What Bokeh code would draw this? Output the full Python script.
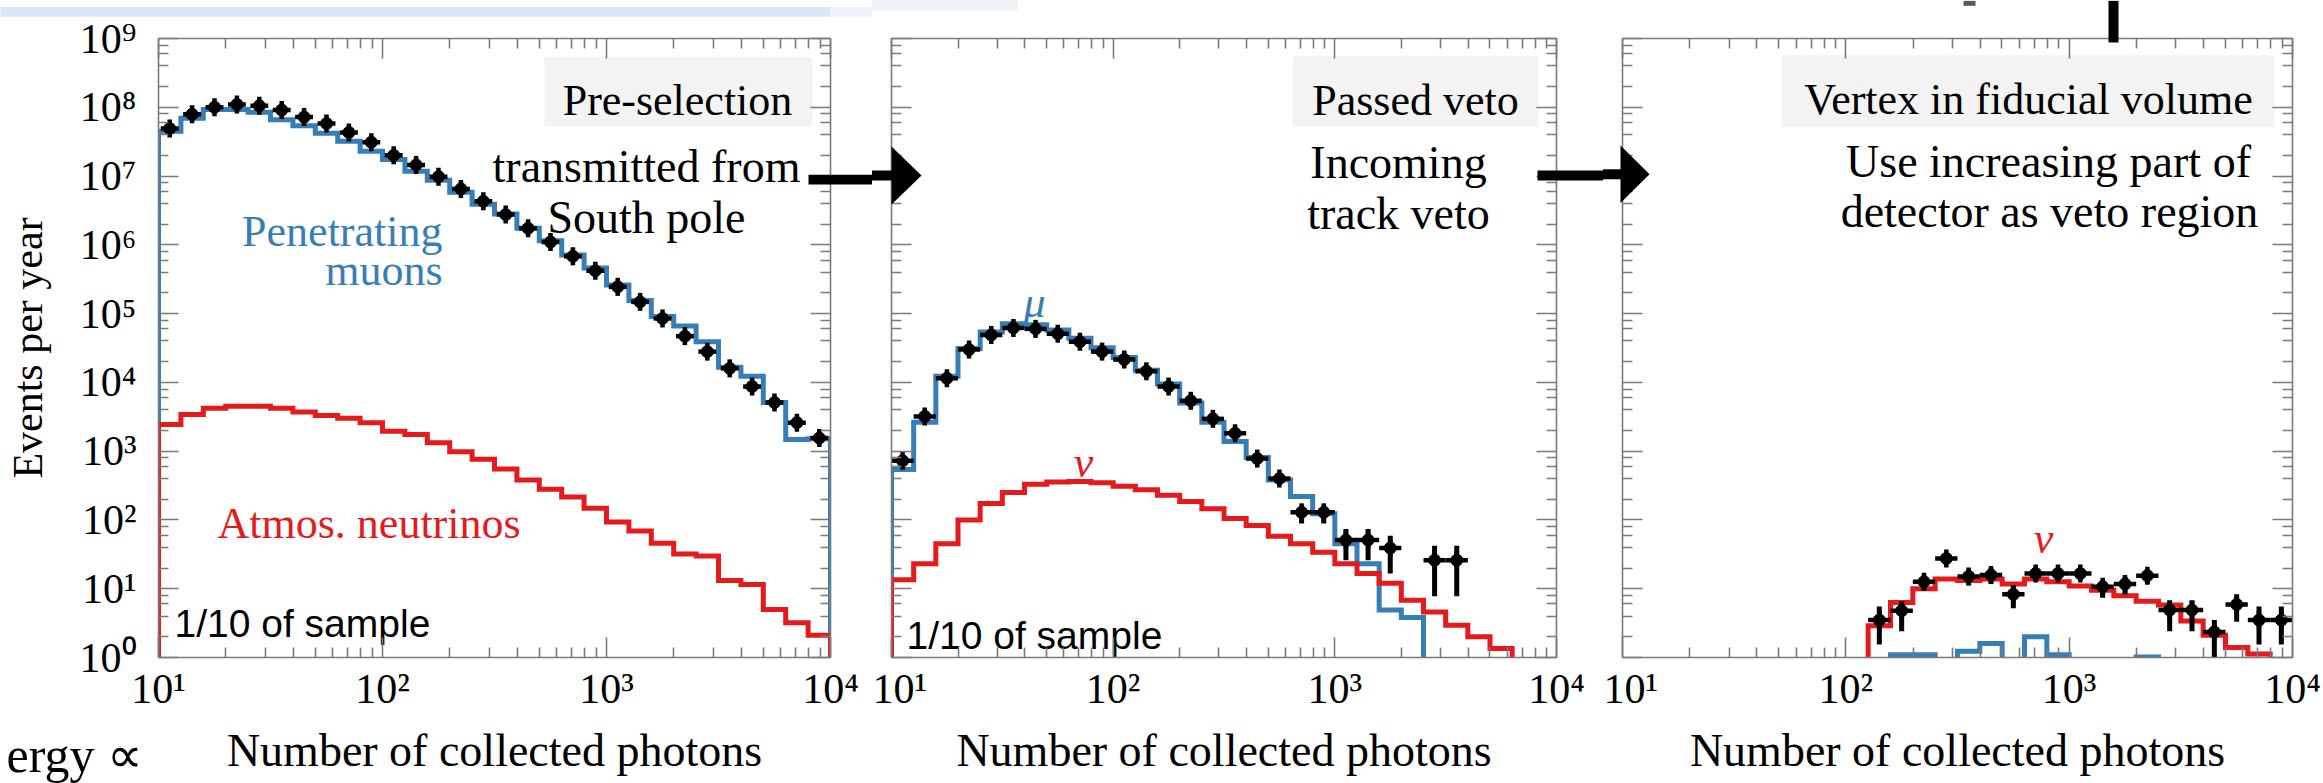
import math
from bokeh.plotting import figure
from bokeh.models import Range1d, LinearScale, LogAxis, FixedTicker, CustomJSTickFormatter
from bokeh.layouts import row
from bokeh.embed import file_html
from bokeh.resources import INLINE
from bokeh.core.properties import value

# ---------------- data ----------------
# histogram bins: 30 bins of 0.1 in log10(number of collected photons), 10^1 .. 10^4
log_bin_edges = [round(1.0 + 0.1 * i, 1) for i in range(31)]

x_ticks = [10, 100, 1000, 10000]
x_tick_labels = ["10¹", "10²", "10³", "10⁴"]
y_ticks = [1, 10, 100, 1e3, 1e4, 1e5, 1e6, 1e7, 1e8, 1e9]
y_tick_labels = ["10⁰", "10¹", "10²", "10³", "10⁴", "10⁵", "10⁶", "10⁷", "10⁸", "10⁹"]

# Panel 1: pre-selection (events per year, 1/10 of sample)
p1_data = [4.9e7, 7.9e7, 1.0e8, 1.1e8, 1.05e8, 9.1e7, 7.2e7, 5.8e7, 4.3e7, 3.1e7,
           2.0e7, 1.45e7, 9.8e6, 6.5e6, 4.3e6, 2.75e6, 1.74e6, 1.1e6, 6.8e5, 4.2e5,
           2.45e5, 1.48e5, 8.5e4, 4.7e4, 2.8e4, 1.6e4, 8.7e3, 5.1e3, 2.6e3, 1.55e3]
p1_muons = [4.5e7, 6.9e7, 9.3e7, 9.3e7, 8.5e7, 6.6e7, 5.4e7, 4.2e7, 3.2e7, 2.3e7,
            1.74e7, 1.17e7, 8.7e6, 5.8e6, 3.9e6, 2.8e6, 1.74e6, 1.15e6, 7.1e5, 4.6e5,
            2.6e5, 1.55e5, 9.1e4, 6.6e4, 3.9e4, 1.66e4, 1.23e4, 5.1e3, 1.48e3, 1.51e3]
p1_neutrinos = [2450, 3400, 4200, 4500, 4500, 4200, 3700, 3300, 3000, 2600,
                1950, 1740, 1320, 980, 760, 550, 380, 280, 215, 148,
                93, 69, 46, 32, 30, 13.2, 11.5, 5.0, 3.2, 2.1]

# Panel 2: passed veto
p2_data = [725, 3200, 1.15e4, 3.0e4, 4.9e4, 6.2e4, 6.0e4, 5.1e4, 3.9e4, 2.8e4,
           2.15e4, 1.45e4, 8700, 5400, 2950, 1820, 780, 400, 129, 129,
           51, 51, 39, None, 26, 26, None, None, None, None]
p2_err_lo = [None] * 18 + [89, 89, 26, 26, 16.6, None, 7.8, 7.8, None, None, None, None]
p2_err_hi = [None] * 18 + [162, 162, 74, 74, 59, None, 42, 42, None, None, None, None]
p2_muons = [540, 2630, 1.23e4, 3.1e4, 5.4e4, 7.1e4, 6.9e4, 5.8e4, 4.4e4, 3.2e4,
            2.3e4, 1.5e4, 9500, 5000, 2630, 1380, 810, 380, 220, 123,
            45, 23, 4.9, 3.8, 0, 0, 0, 0, 0, 0]
p2_neutrinos = [13.5, 23, 45, 100, 174, 250, 330, 355, 363, 347,
                309, 275, 229, 186, 145, 105, 83, 58, 45, 34,
                23, 16.6, 12, 6.8, 4.6, 2.95, 2.0, 1.35, 0, 0]

# Panel 3: vertex in fiducial volume
p3_data = [None] * 11 + [3.5, 4.8, 12.6, 27.5, 15.1, 15.8, 8.3, 16.6, 16.6, 16.6,
                         10.7, 11.7, 15.5, 4.9, 4.9, 2.35, 5.9, 3.5, 3.5]
p3_err_lo = [None] * 11 + [1.55, 2.4, 9.5, 23, 11.2, 11.7, 5.2, 13.5, 13.5, 13.5,
                           7.4, 8.3, 11.7, 2.4, 2.4, 1.0, 3.3, 1.55, 1.55]
p3_err_hi = [None] * 11 + [5.5, 6.5, 15.5, 32, 19, 20, 11.2, 20, 20, 20,
                           13.2, 14.8, 19, 6.8, 6.8, 3.5, 8.3, 5.5, 5.5]
p3_muons = [0] * 12 + [1.1, 1.1, 0, 1.23, 1.6, 0, 2.0, 1.1, 0, 0, 0, 1.02, 0, 0, 0, 0, 0, 0]
p3_neutrinos = [0] * 11 + [2.9, 6.3, 10, 13.8, 13.2, 13.8, 11.7, 13.8, 12.6, 11,
                           9.5, 7.9, 6.6, 5.8, 3.4, 2.1, 1.4, 1.12, 0]

# ---------------- style ----------------
BLUE = "#377eb8"
RED = "#e41a1c"
GRAY = "#7a7a7a"
SERIF = "Liberation Serif"
SANS = "Liberation Sans"
FLOOR = 1e-3
H = 783
LW = 5

# canvas_left, width, frame_left, frame_right, frame_top, frame_bottom (page pixels)
PANELS = [
    (0, 872, 158, 830, 32, 659),
    (872, 731, 891, 1556, 38, 657),
    (1603, 720, 1622, 2292, 38, 663),
]


def style_axis(ax, ticks, minor, labels, label_size="42px"):
    ax.ticker = FixedTicker(ticks=ticks, minor_ticks=minor)
    ax.axis_line_color = GRAY
    ax.axis_line_width = 1.6
    ax.major_tick_line_color = GRAY
    ax.major_tick_line_width = 1.6
    ax.minor_tick_line_color = GRAY
    ax.minor_tick_line_width = 1.6
    ax.major_tick_in = 20
    ax.major_tick_out = 0
    ax.minor_tick_in = 10
    ax.minor_tick_out = 0
    if labels is None:
        ax.formatter = CustomJSTickFormatter(code="return ''")
        ax.major_label_text_font_size = "0px"
        ax.major_label_standoff = 0
    else:
        ax.formatter = labels
        ax.major_label_text_font = SERIF
        ax.major_label_text_font_size = label_size
        ax.major_label_text_color = "black"


def make_panel(spec, ylabels):
    cl, w, fl, fr, ft, fb = spec
    p = figure(width=w, height=H, x_axis_type="log", y_axis_type="log",
               x_range=Range1d(10, 1e4), y_range=Range1d(1, 1e9),
               output_backend="svg", toolbar_location=None,
               min_border_left=fl - cl, min_border_right=cl + w - fr,
               min_border_top=ft, min_border_bottom=H - fb)
    p.outline_line_color = None
    p.grid.visible = False
    p.background_fill_color = "white"
    p.border_fill_color = "white"
    # page-pixel coordinate system for texts and decorations
    p.extra_x_ranges = {"px": Range1d(fl, fr)}
    p.extra_y_ranges = {"py": Range1d(fb, ft)}
    p.extra_x_scales = {"px": LinearScale()}
    p.extra_y_scales = {"py": LinearScale()}

    x_minor = [m * 10 ** k for k in (1, 2, 3) for m in range(2, 10)]
    y_minor = [m * 10 ** k for k in range(0, 9) for m in (2, 4, 6, 8)]
    xfmt = CustomJSTickFormatter(args=dict(labels=x_tick_labels),
                                 code="return labels[Math.round(Math.log10(tick)) - 1];")
    yfmt = CustomJSTickFormatter(args=dict(labels=y_tick_labels),
                                 code="return labels[Math.round(Math.log10(tick))];")

    style_axis(p.xaxis[0], x_ticks, x_minor, xfmt)
    p.xaxis[0].major_label_standoff = 8
    p.xaxis[0].axis_label = "Number of collected photons"
    p.xaxis[0].axis_label_text_font = SERIF
    p.xaxis[0].axis_label_text_font_style = "normal"
    p.xaxis[0].axis_label_text_font_size = "46px"
    p.xaxis[0].axis_label_text_color = "black"
    p.xaxis[0].axis_label_standoff = 10

    style_axis(p.yaxis[0], y_ticks, y_minor, yfmt if ylabels else None)
    if ylabels:
        p.yaxis[0].major_label_standoff = 22
        p.yaxis[0].axis_label = "Events per year"
        p.yaxis[0].axis_label_text_font = SERIF
        p.yaxis[0].axis_label_text_font_style = "normal"
        p.yaxis[0].axis_label_text_font_size = "42px"
        p.yaxis[0].axis_label_text_color = "black"
        p.yaxis[0].axis_label_standoff = 26

    top = LogAxis()
    style_axis(top, x_ticks, x_minor, None)
    p.add_layout(top, "above")
    right = LogAxis()
    style_axis(right, y_ticks, y_minor, None)
    p.add_layout(right, "right")
    return p


def hist_line(p, vals, color):
    xs = [10 ** log_bin_edges[0]]
    ys = [FLOOR]
    for i, v in enumerate(vals):
        vv = v if (v is not None and v > 0) else FLOOR
        xs += [10 ** log_bin_edges[i], 10 ** log_bin_edges[i + 1]]
        ys += [vv, vv]
    xs.append(10 ** log_bin_edges[-1])
    ys.append(FLOOR)
    p.line(xs, ys, line_color=color, line_width=LW, line_join="miter")


def data_points(p, vals, lo=None, hi=None, frac=1.0):
    xc, yc, x0, x1 = [], [], [], []
    ex, elo, ehi = [], [], []
    for i, v in enumerate(vals):
        if v is None:
            continue
        a, b = log_bin_edges[i], log_bin_edges[i + 1]
        mid = 0.5 * (a + b)
        half = 0.5 * (b - a) * frac
        xc.append(10 ** mid)
        yc.append(v)
        x0.append(10 ** (mid - half))
        x1.append(10 ** (mid + half))
        if lo is not None and lo[i] is not None:
            ex.append(10 ** mid)
            elo.append(lo[i])
            ehi.append(hi[i])
    p.segment(x0=x0, y0=yc, x1=x1, y1=yc, line_color="black", line_width=4.5)
    if ex:
        p.segment(x0=ex, y0=elo, x1=ex, y1=ehi, line_color="black", line_width=5)
    p.scatter(xc, yc, marker="dash", angle=math.pi / 2, size=18,
              line_color="black", line_width=4.5)
    p.scatter(xc, yc, size=12, color="black")


def txt(p, x, y, s, size, color="black", align="left", font=SERIF, style="normal",
        level="glyph"):
    p.text(x=[x], y=[y], text=[s], text_font=value(font), text_font_size=f"{size}px",
           text_color=color, text_align=align, text_baseline="alphabetic",
           text_font_style=style, x_range_name="px", y_range_name="py", level=level)


def label_box(p, l, r, t, b, s, cx, base):
    p.quad(left=[l], right=[r], top=[t], bottom=[b], fill_color="#f3f3f3",
           line_color=None, x_range_name="px", y_range_name="py")
    txt(p, cx, base, s, 44, align="center")


band_dots_x = [55, 69, 120, 135, 149, 166, 181, 195, 212, 224, 241, 258, 276, 293,
               310, 327, 344, 362, 379, 402, 425, 453, 482, 517, 551, 585]


def decorations(p):
    # shapes only (each canvas shows the part that falls on it)
    kw = dict(x_range_name="px", y_range_name="py", level="overlay")
    # strip of the picture above
    p.quad(left=[0], right=[830], top=[0], bottom=[10], fill_color="#d6e8f7",
           line_color=None, **kw)
    p.quad(left=[830], right=[1017], top=[0], bottom=[10], fill_color="#eef3f9",
           line_color=None, **kw)
    for yy in (1.5, 5, 8.5):
        p.scatter(band_dots_x, [yy] * len(band_dots_x), size=5, color="#6f7780", **kw)
    # arrows between panels
    for (s0, s1, hb, tip) in ((808, 893, 891, 921), (1537, 1622, 1620, 1649)):
        p.quad(left=[s0], right=[s1], top=[170], bottom=[180], fill_color="black",
               line_color=None, **kw)
        p.patch([hb, hb, tip], [146, 204, 175], fill_color="black", line_color=None, **kw)
    # pieces of the surrounding slide
    p.quad(left=[2108], right=[2118], top=[0], bottom=[42], fill_color="black",
           line_color=None, **kw)
    p.quad(left=[1963], right=[1975], top=[0], bottom=[5], fill_color="#5a5a5a",
           line_color=None, **kw)


# ---------------- panel 1 ----------------
f1 = make_panel(PANELS[0], True)
hist_line(f1, p1_muons, BLUE)
hist_line(f1, p1_neutrinos, RED)
data_points(f1, p1_data, frac=0.8)
label_box(f1, 544, 812, 51, 121, "Pre-selection", 677, 95)
txt(f1, 646, 162, "transmitted from", 46, align="center")
txt(f1, 646, 213, "South pole", 46, align="center")
txt(f1, 442, 227, "Penetrating", 44, color=BLUE, align="right")
txt(f1, 442, 267, "muons", 44, color=BLUE, align="right")
txt(f1, 217, 523, "Atmos.  neutrinos", 44, color=RED)
txt(f1, 174, 625, "1/10 of sample", 39, font=SANS)
decorations(f1)
txt(f1, 6, 758, "ergy ∝", 50, align="left", level="overlay")

# ---------------- panel 2 ----------------
f2 = make_panel(PANELS[1], False)
hist_line(f2, p2_muons, BLUE)
hist_line(f2, p2_neutrinos, RED)
data_points(f2, p2_data, p2_err_lo, p2_err_hi)
label_box(f2, 1292, 1538, 56, 126, "Passed veto", 1415, 100)
txt(f2, 1398, 162, "Incoming", 46, align="center")
txt(f2, 1398, 213, "track veto", 46, align="center")
txt(f2, 1034, 302, "μ", 44, color=BLUE, align="center", style="italic")
txt(f2, 1083, 462, "ν", 44, color=RED, align="center", style="italic")
txt(f2, 906, 635, "1/10 of sample", 39, font=SANS)
decorations(f2)

# ---------------- panel 3 ----------------
f3 = make_panel(PANELS[2], False)
hist_line(f3, p3_muons, BLUE)
hist_line(f3, p3_neutrinos, RED)
data_points(f3, p3_data, p3_err_lo, p3_err_hi)
label_box(f3, 1781, 2274, 55, 127, "Vertex in fiducial volume", 2028, 100)
txt(f3, 2048, 162, "Use increasing part of", 46, align="center")
txt(f3, 2049, 213, "detector as veto region", 46, align="center")
txt(f3, 2043, 543, "ν", 44, color=RED, align="center", style="italic")
decorations(f3)

layout = row(f1, f2, f3)
open("out.html", "w").write(file_html(layout, INLINE))
